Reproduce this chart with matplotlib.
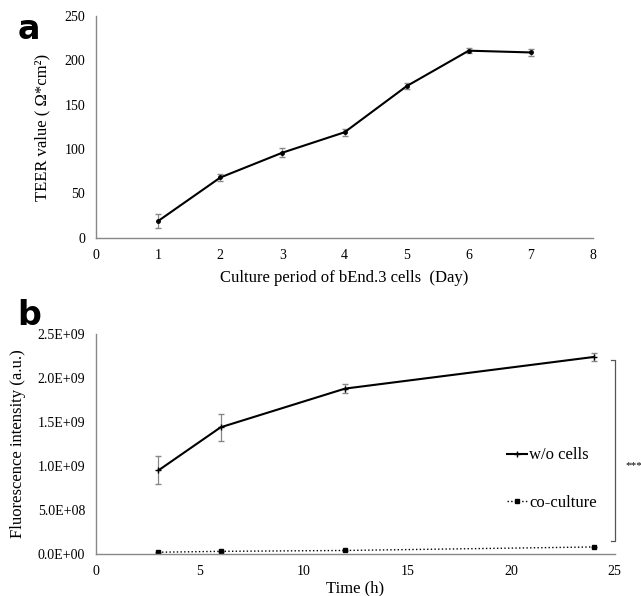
import matplotlib.pyplot as plt
from matplotlib.lines import Line2D
from matplotlib.ticker import FuncFormatter

plt.rcParams['font.family'] = ['Liberation Serif', 'DejaVu Serif']

# panel a: TEER
days = [1, 2, 3, 4, 5, 6, 7]
teer = [19, 68, 96, 119, 171, 211, 209]
teer_err = [8, 4, 5, 4, 3, 3, 4]

# panel b: fluorescence
hours = [3, 6, 12, 24]
wo_cells = [0.95e9, 1.44e9, 1.88e9, 2.24e9]
wo_cells_err = [0.16e9, 0.15e9, 0.05e9, 0.05e9]
coculture = [0.02e9, 0.03e9, 0.04e9, 0.08e9]
coculture_err = [0.005e9, 0.005e9, 0.005e9, 0.005e9]

fig = plt.figure(figsize=(6.41, 5.96), dpi=100)
ax1 = fig.add_axes([0.150, 0.601, 0.775, 0.372])
ax2 = fig.add_axes([0.150, 0.0705, 0.809, 0.369])

for ax in (ax1, ax2):
    for s in ['top', 'right']:
        ax.spines[s].set_visible(False)
    for s in ['left', 'bottom']:
        ax.spines[s].set_color('#888888')
        ax.spines[s].set_linewidth(1.0)
    ax.tick_params(length=0, labelsize=10, pad=8)

ax1.errorbar(days, teer, yerr=teer_err, color='black', lw=1.5, marker='o', ms=2.5,
             ecolor='#888888', elinewidth=0.9, capsize=2.5)
ax1.set_xlim(0, 8)
ax1.set_ylim(0, 250)
ax1.set_xticks(range(0, 9))
ax1.set_yticks(range(0, 251, 50))
ax1.set_xlabel('Culture period of bEnd.3 cells  (Day)', fontsize=12, labelpad=6)
ax1.set_ylabel('TEER value ( Ω*cm²)', fontsize=12, labelpad=10)

ax2.errorbar(hours, wo_cells, yerr=wo_cells_err, color='black', lw=1.5, marker='+', ms=4,
             ecolor='#888888', elinewidth=0.9, capsize=2.5)
ax2.errorbar(hours, coculture, yerr=coculture_err, color='black', lw=1.0, ls=':',
             marker='s', ms=3, ecolor='#888888', elinewidth=0.9, capsize=2)
ax2.set_xlim(0, 25)
ax2.set_ylim(0, 2.5e9)
ax2.set_xticks(range(0, 26, 5))
ax2.set_yticks([0, 0.5e9, 1.0e9, 1.5e9, 2.0e9, 2.5e9])
ax2.yaxis.set_major_formatter(FuncFormatter(lambda v, p: '%.1E' % v))
ax2.set_xlabel('Time (h)', fontsize=12, labelpad=2)
ax2.set_ylabel('Fluorescence intensity (a.u.)', fontsize=12, labelpad=8)

handles = [Line2D([], [], color='black', lw=1.5, marker='+', ms=4),
           Line2D([], [], color='black', lw=1.0, ls=':', marker='s', ms=3)]
ax2.legend(handles, ['w/o cells', 'co-culture'], loc='center left',
           bbox_to_anchor=(0.78, 0.34), frameon=False, fontsize=12,
           labelspacing=1.9, handlelength=1.2, handletextpad=0.1, borderaxespad=0)

# significance bracket
ax2.plot([24.8, 25.0, 25.0, 24.8], [2.2e9, 2.2e9, 0.15e9, 0.15e9], color='#555555',
         lw=0.9, clip_on=False)
ax2.text(25.5, 1.0e9, '***', fontsize=8, va='center', ha='left')

fig.text(0.027, 0.935, 'a', fontsize=24, fontweight='bold', family='DejaVu Sans')
fig.text(0.027, 0.455, 'b', fontsize=24, fontweight='bold', family='DejaVu Sans')

plt.savefig('out.png', dpi=100)
